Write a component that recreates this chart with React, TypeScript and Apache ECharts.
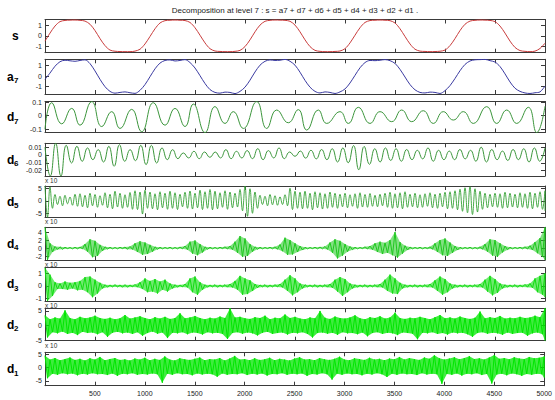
import { useEffect, useRef } from 'react';
import * as echarts from 'echarts';

const X_MAX = 5000;
const X_TICK = 500;
const TITLE = 'Decomposition at level 7 : s = a7 + d7 + d6 + d5 + d4 + d3 + d2 + d1 .';

// signal s, sampled every 50
const sValues = [-0.5,0.26,0.93,1.35,1.46,1.49,1.5,1.47,1.4,1.1,0.5,-0.26,-0.93,-1.35,-1.46,-1.49,-1.5,-1.5,-1.45,-1.27,-0.77,-0.06,0.67,1.22,1.44,1.48,1.5,1.48,1.45,1.27,0.77,0.06,-0.67,-1.22,-1.44,-1.48,-1.5,-1.5,-1.47,-1.38,-1.02,-0.38,0.38,1.02,1.38,1.47,1.5,1.49,1.47,1.38,1.02,0.38,-0.38,-1.02,-1.38,-1.47,-1.5,-1.5,-1.48,-1.44,-1.22,-0.67,0.06,0.77,1.27,1.45,1.48,1.5,1.48,1.44,1.22,0.67,-0.06,-0.77,-1.27,-1.45,-1.48,-1.5,-1.49,-1.46,-1.35,-0.93,-0.26,0.5,1.1,1.4,1.47,1.5,1.49,1.46,1.35,0.93,0.26,-0.5,-1.1,-1.4,-1.47,-1.5,-1.45,-1.2,-0.7];
// approximation a7, sampled every 50
const a7Values = [-0.3,0.3,0.95,1.38,1.52,1.47,1.42,1.5,1.56,1.2,0.5,-0.3,-1.0,-1.45,-1.62,-1.55,-1.5,-1.58,-1.64,-1.35,-0.8,-0.05,0.7,1.25,1.5,1.55,1.45,1.5,1.58,1.3,0.78,0.05,-0.7,-1.28,-1.55,-1.62,-1.52,-1.55,-1.66,-1.45,-1.05,-0.38,0.4,1.05,1.42,1.55,1.5,1.52,1.6,1.42,1.05,0.38,-0.4,-1.05,-1.45,-1.6,-1.5,-1.55,-1.65,-1.5,-1.22,-0.65,0.08,0.8,1.3,1.5,1.48,1.52,1.58,1.48,1.22,0.65,-0.08,-0.8,-1.3,-1.55,-1.6,-1.52,-1.55,-1.65,-1.38,-0.9,-0.22,0.52,1.12,1.45,1.56,1.58,1.6,1.48,1.35,0.92,0.22,-0.55,-1.15,-1.45,-1.6,-1.65,-1.58,-1.5,-0.95];
// detail d7: [sample, value] at extrema
const d7Points = [[0,-0.1],[67,0.096],[167,-0.06],[267,0.054],[350,-0.07],[467,0.104],[567,-0.08],[667,0.03],[750,-0.094],[867,0.047],[967,-0.118],[1083,0.096],[1200,-0.07],[1300,0.054],[1400,-0.08],[1483,0.086],[1600,-0.124],[1700,0.067],[1800,-0.057],[1883,0.03],[1983,-0.094],[2117,0.104],[2217,-0.094],[2317,0.042],[2433,-0.052],[2533,0.045],[2617,-0.106],[2733,0.042],[2817,-0.057],[2950,0.03],[3033,-0.057],[3133,0.062],[3250,-0.057],[3350,0.03],[3467,-0.044],[3567,0.042],[3667,-0.044],[3783,0.037],[3883,-0.057],[3983,0.03],[4083,-0.032],[4183,0.03],[4283,-0.057],[4417,0.067],[4517,-0.057],[4617,0.042],[4717,-0.057],[4833,0.062],[4917,-0.124],[5000,0.07]];
// detail d6 extrema, evenly spaced
const d6Values = [0.01,-0.027,0.015,-0.027,0.0124,-0.0103,0.0111,-0.0081,0.009,-0.006,0.0068,-0.009,0.0111,-0.0145,0.0132,-0.0081,0.0068,-0.0073,0.0124,-0.0124,0.0124,-0.0103,0.009,-0.006,0.0068,-0.0047,0.0026,-0.0038,0.0047,-0.0047,0.0038,-0.003,0.0038,-0.0038,0.0068,-0.0047,0.0047,-0.0038,0.0056,-0.0047,0.0081,-0.006,0.0056,-0.0038,0.009,-0.0047,0.0038,-0.0017,0.005,-0.004,0.006,-0.005,0.007,-0.006,0.008,-0.009,0.009,-0.01,0.012,-0.019,0.011,-0.012,0.008,-0.009,0.009,-0.007,0.008,-0.008,0.007,-0.006,0.006,-0.005,0.009,-0.008,0.006,-0.006,0.005,-0.006,0.007,-0.005,0.006,-0.008,0.01,-0.009,0.007,-0.006,0.005,-0.007,0.007,-0.006,0.008,-0.009,0.009,-0.008,0.009];
// detail d5 (x 10^-3): upper and lower swings
const d5Hi = [5.9,5.5,2.5,1.8,2.2,1.5,2.6,2.8,2.2,3.0,2.5,2.0,3.2,2.6,3.8,3.0,2.4,3.3,4.0,3.5,4.2,3.5,2.8,3.6,3.0,3.8,3.2,2.6,3.4,3.9,3.0,4.2,3.6,4.5,3.8,3.2,4.0,3.5,3.0,4.5,5.9,4.8,3.5,2.2,1.8,2.5,2.0,1.6,2.4,5.0,3.8,3.4,3.8,3.0,3.6,3.2,2.8,3.5,3.0,2.6,3.0,2.4,2.8,3.2,2.5,2.9,2.2,2.6,3.0,3.4,2.8,3.2,3.6,2.6,3.0,2.4,2.8,3.2,2.6,3.0,3.4,3.6,4.0,4.6,5.2,5.6,4.8,3.8,3.0,2.6,3.0,2.8,3.4,3.0,2.6,3.2,2.8,3.4,3.0,3.6,4.0];
const d5Lo = [-6.6,-3,-1.5,-2,-1.2,-1.8,-2.2,-2.4,-2.8,-2.0,-2.6,-1.8,-2.8,-3.2,-2.5,-3.0,-2.6,-3.4,-3.5,-5.3,-3.0,-3.2,-3.6,-2.8,-3.4,-3.0,-3.5,-2.4,-3.0,-3.3,-2.8,-3.5,-3.0,-3.6,-3.2,-2.6,-3.4,-2.8,-2.5,-4.0,-6.2,-5.0,-3.0,-1.5,-2.0,-1.6,-1.8,-1.5,-2.0,-3.5,-3.0,-3.2,-3.0,-3.6,-2.8,-3.3,-3.0,-2.6,-3.0,-2.4,-2.8,-2.2,-3.0,-2.5,-2.6,-2.2,-2.4,-2.0,-2.6,-3.0,-2.8,-3.2,-2.6,-2.4,-2.8,-2.6,-2.2,-2.8,-3.0,-2.4,-3.2,-3.0,-3.6,-4.2,-4.8,-5.5,-4.5,-3.4,-2.8,-2.4,-2.6,-3.0,-2.8,-2.5,-2.8,-2.6,-3.0,-3.2,-2.6,-3.4,-4.0];
// detail d4
const d4Hi = [5.2,1.2,0.4,0.3,0.2,0.15,0.2,0.25,1.0,2.2,1.8,0.8,0.3,0.2,0.15,0.2,0.25,0.4,1.2,1.7,1.4,0.8,0.3,0.2,0.15,0.2,0.15,0.25,0.5,1.6,1.9,1.0,0.3,0.2,0.15,0.2,0.3,0.5,1.6,3.0,2.4,1.0,0.3,0.2,0.15,0.2,0.3,0.9,2.6,2.0,1.2,0.5,0.2,0.15,0.2,0.25,0.4,1.4,2.2,1.8,1.0,0.4,0.2,0.15,0.3,0.5,1.2,1.6,1.3,2.0,4.0,1.5,0.6,0.25,0.15,0.2,0.15,0.3,1.2,2.0,2.4,1.4,0.5,0.2,0.15,0.2,0.15,0.3,1.0,2.2,2.0,1.2,0.5,0.2,0.15,0.2,0.3,0.6,1.5,2.5,5.2];
const d4Lo = [-3,-1.0,-0.35,-0.3,-0.15,-0.2,-0.2,-0.2,-0.9,-2.3,-2.0,-0.7,-0.25,-0.2,-0.2,-0.15,-0.3,-0.35,-1.0,-1.7,-1.5,-0.9,-0.3,-0.2,-0.15,-0.2,-0.2,-0.2,-0.4,-1.4,-1.8,-1.1,-0.3,-0.2,-0.2,-0.15,-0.25,-0.4,-1.2,-2.2,-2.0,-0.9,-0.3,-0.2,-0.15,-0.2,-0.3,-0.8,-1.7,-1.6,-1.0,-0.5,-0.2,-0.15,-0.2,-0.2,-0.35,-1.2,-2.6,-1.9,-0.9,-0.4,-0.2,-0.15,-0.25,-0.4,-1.0,-1.5,-1.2,-1.8,-2.4,-1.4,-0.5,-0.2,-0.15,-0.2,-0.15,-0.3,-1.0,-1.8,-2.0,-1.2,-0.5,-0.2,-0.15,-0.2,-0.2,-0.3,-0.9,-1.9,-2.2,-1.1,-0.4,-0.2,-0.15,-0.2,-0.25,-0.5,-1.3,-2.2,-3.0];
// detail d3
const d3Hi = [1.45,0.9,0.3,0.2,0.35,0.25,0.3,0.4,0.7,0.75,0.5,0.25,0.1,0.08,0.1,0.08,0.1,0.08,0.12,0.3,0.6,0.4,0.55,0.35,0.5,0.2,0.1,0.08,0.15,0.6,0.75,0.3,0.1,0.08,0.1,0.08,0.1,0.15,0.4,0.8,0.6,0.45,0.15,0.08,0.1,0.08,0.1,0.15,0.5,0.85,0.6,0.2,0.1,0.08,0.1,0.08,0.1,0.15,0.5,0.7,0.55,0.2,0.1,0.08,0.1,0.08,0.1,0.15,0.5,0.9,0.6,0.25,0.1,0.08,0.1,0.08,0.1,0.15,0.45,0.75,0.55,0.2,0.1,0.08,0.1,0.08,0.1,0.15,0.5,0.8,0.55,0.2,0.1,0.08,0.1,0.08,0.12,0.2,0.6,0.8,1.0];
const d3Lo = [-1.2,-0.8,-0.25,-0.25,-0.3,-0.2,-0.35,-0.3,-0.5,-0.9,-0.6,-0.2,-0.1,-0.08,-0.08,-0.1,-0.1,-0.08,-0.1,-0.25,-0.5,-0.45,-0.6,-0.3,-0.45,-0.2,-0.1,-0.08,-0.12,-0.5,-0.7,-0.3,-0.1,-0.08,-0.1,-0.08,-0.1,-0.12,-0.3,-0.7,-0.65,-0.4,-0.15,-0.08,-0.1,-0.08,-0.08,-0.12,-0.4,-0.75,-0.5,-0.2,-0.08,-0.08,-0.1,-0.08,-0.1,-0.15,-0.45,-0.8,-0.5,-0.2,-0.1,-0.08,-0.1,-0.08,-0.1,-0.12,-0.4,-0.6,-0.65,-0.2,-0.1,-0.08,-0.1,-0.08,-0.1,-0.12,-0.4,-0.7,-0.5,-0.2,-0.1,-0.08,-0.1,-0.08,-0.1,-0.12,-0.45,-0.75,-0.55,-0.2,-0.1,-0.08,-0.1,-0.08,-0.1,-0.15,-0.5,-0.7,-0.9];
// detail d2
const d2Hi = [3.5,2.2,2.8,2.4,5.2,2.6,2.2,3.0,2.5,2.8,3.4,2.6,2.3,2.7,2.2,2.5,3.6,2.4,2.8,3.2,2.6,2.2,2.9,2.4,3.0,2.3,2.6,4.2,2.5,2.8,3.3,2.6,2.2,2.7,2.4,3.1,2.6,5.9,2.8,3.0,2.5,2.3,2.9,2.6,3.4,2.2,2.7,2.5,3.8,2.6,3.0,2.4,2.2,2.8,2.5,5.0,2.7,2.3,3.1,2.6,2.4,2.8,3.5,2.5,2.2,2.9,2.6,3.2,2.4,2.8,4.4,2.6,2.3,2.7,2.5,3.0,2.6,2.2,2.9,3.6,2.5,2.8,2.4,3.1,2.6,2.3,2.7,4.8,2.5,2.9,2.6,3.3,2.4,2.7,2.5,3.0,2.6,2.8,3.4,2.9,5.9];
const d2Lo = [-4.0,-2.2,-2.6,-2.0,-2.8,-2.4,-3.2,-2.1,-2.5,-2.3,-2.9,-2.2,-3.8,-2.4,-2.1,-2.6,-2.3,-2.8,-2.2,-3.4,-2.5,-2.0,-2.7,-2.3,-4.2,-2.4,-2.6,-2.2,-2.9,-2.3,-2.5,-3.0,-2.2,-2.6,-2.4,-2.8,-4.5,-2.5,-2.2,-2.7,-2.3,-2.6,-3.3,-2.4,-2.1,-2.8,-2.5,-2.3,-3.0,-2.4,-2.6,-2.2,-2.8,-4.0,-2.5,-2.3,-2.7,-2.4,-3.1,-2.2,-2.6,-2.5,-2.9,-2.3,-3.6,-2.5,-2.2,-2.8,-2.4,-2.6,-3.2,-2.3,-2.5,-2.7,-4.6,-2.4,-2.6,-2.2,-2.8,-2.5,-3.0,-2.3,-2.6,-2.4,-2.9,-3.8,-2.5,-2.2,-2.7,-2.4,-2.6,-3.1,-2.3,-2.8,-2.5,-2.4,-3.4,-2.6,-2.3,-2.9,-5.1];
// detail d1
const d1Hi = [4.5,3.0,3.6,2.8,3.2,3.8,2.9,3.3,2.7,3.5,3.0,4.0,2.8,3.2,3.6,2.9,3.1,2.7,3.4,3.0,3.7,2.8,3.3,2.9,4.2,3.0,2.7,3.5,3.1,2.9,3.3,3.8,2.8,3.2,3.0,3.6,2.7,3.4,4.4,3.0,3.2,2.8,3.5,2.9,3.1,3.7,2.8,3.3,3.0,2.7,3.4,3.9,3.0,3.2,2.8,3.6,3.1,2.9,3.3,4.1,3.0,2.8,3.5,3.2,2.9,3.7,3.0,3.3,2.8,3.4,3.1,4.0,3.0,3.6,3.2,2.9,3.8,3.3,4.6,3.5,3.0,3.4,3.9,3.1,3.6,4.3,3.2,3.5,3.0,3.8,4.7,3.3,3.6,3.1,3.9,3.4,3.2,4.0,3.5,3.7,4.2];
const d1Lo = [-4.0,-2.3,-2.7,-2.1,-2.5,-2.2,-2.9,-2.3,-2.6,-2.1,-2.5,-2.4,-2.8,-2.2,-3.1,-2.3,-2.5,-2.1,-2.7,-2.4,-2.6,-2.2,-2.5,-5.7,-2.3,-2.7,-2.1,-2.5,-2.4,-2.9,-2.2,-2.6,-2.3,-2.5,-3.4,-2.2,-2.7,-2.4,-2.5,-2.1,-2.8,-2.3,-2.6,-2.2,-3.0,-2.4,-2.5,-2.1,-2.7,-2.3,-2.5,-2.2,-3.1,-2.4,-2.6,-2.1,-2.5,-4.5,-2.3,-2.7,-2.2,-2.5,-2.4,-2.9,-2.3,-2.6,-2.1,-2.5,-3.5,-2.3,-2.7,-2.2,-2.5,-2.4,-2.8,-2.1,-2.6,-2.3,-2.5,-6.1,-2.4,-2.7,-2.2,-3.0,-2.3,-2.5,-2.1,-2.8,-2.4,-6.0,-2.6,-2.3,-2.9,-2.2,-2.5,-3.1,-2.4,-2.7,-2.3,-2.5,-3.8];

// tick labels
const xTickLabels = [500,1000,1500,2000,2500,3000,3500,4000,4500,5000];
const sTicks = [-1,0,1];
const a7Ticks = [-1,0,1];
const d7Ticks = [-0.1,0,0.1];
const d6Ticks = [-0.02,-0.01,0,0.01];
const d5Ticks = [-5,0,5];
const d4Ticks = [-2,0,2,4];
const d3Ticks = [-1,0,1];
const d2Ticks = [-5,0,5];
const d1Ticks = [-5,0,5];

const FONT = '"Liberation Sans", Arial, Helvetica, sans-serif';
const FRAME = '#3a3a3a';

type Panel = {
  main: string; sub: string; top: number; height: number; min: number; max: number;
  ticks: number[]; color: string; kind: 'line' | 'zig' | 'band'; smooth: number;
  exp: boolean; fill?: number;
};

const PANELS: Panel[] = [
  { main: 's', sub: '', top: 19.5, height: 33.2, min: -1.6, max: 1.55, ticks: sTicks, color: '#c83c3c', kind: 'line', smooth: 0.3, exp: false },
  { main: 'a', sub: '7', top: 59.3, height: 34.7, min: -1.7, max: 1.61, ticks: a7Ticks, color: '#3a3aa0', kind: 'line', smooth: 0.3, exp: false },
  { main: 'd', sub: '7', top: 101.5, height: 31, min: -0.124, max: 0.105, ticks: d7Ticks, color: '#3c963c', kind: 'line', smooth: 0.5, exp: false },
  { main: 'd', sub: '6', top: 143.3, height: 32.7, min: -0.027, max: 0.015, ticks: d6Ticks, color: '#3c963c', kind: 'line', smooth: 0.5, exp: false },
  { main: 'd', sub: '5', top: 186, height: 31.3, min: -6.6, max: 5.9, ticks: d5Ticks, color: '#34a034', kind: 'zig', smooth: 0.4, exp: true },
  { main: 'd', sub: '4', top: 227.3, height: 32.7, min: -3, max: 5.2, ticks: d4Ticks, color: '#1ec81e', kind: 'band', smooth: 0, exp: true, fill: 0.55 },
  { main: 'd', sub: '3', top: 267.7, height: 33.3, min: -1.2, max: 1.45, ticks: d3Ticks, color: '#10dc10', kind: 'band', smooth: 0, exp: true, fill: 0.6 },
  { main: 'd', sub: '2', top: 308.3, height: 32.4, min: -5.1, max: 5.9, ticks: d2Ticks, color: '#00e600', kind: 'band', smooth: 0, exp: true, fill: 0.75 },
  { main: 'd', sub: '1', top: 352.3, height: 33.4, min: -6.8, max: 5.75, ticks: d1Ticks, color: '#00e600', kind: 'band', smooth: 0, exp: true, fill: 0.75 },
];

const PANEL_DATA: any[] = [
  { vals: sValues },
  { vals: a7Values },
  { points: d7Points },
  { vals: d6Values },
  { hi: d5Hi, lo: d5Lo },
  { hi: d4Hi, lo: d4Lo },
  { hi: d3Hi, lo: d3Lo },
  { hi: d2Hi, lo: d2Lo },
  { hi: d1Hi, lo: d1Lo },
];

function uniformPoints(vals: number[]) {
  const step = X_MAX / (vals.length - 1);
  return vals.map((v, i) => [i * step, v]);
}

function zigPoints(hi: number[], lo: number[]) {
  const n = Math.min(hi.length, lo.length);
  const step = X_MAX / (n - 1);
  const out: number[][] = [];
  for (let i = 0; i < n; i++) {
    out.push([i * step, hi[i]]);
    out.push([Math.min((i + 0.5) * step, X_MAX), lo[i]]);
  }
  return out;
}

function buildOption() {
  const grid: any[] = [];
  const xAxis: any[] = [];
  const yAxis: any[] = [];
  const series: any[] = [];
  const graphic: any[] = [];
  const last = PANELS.length - 1;

  PANELS.forEach((p, k) => {
    grid.push({ left: 45, width: 500, top: p.top, height: p.height, containLabel: false });
    const axisLine = { show: true, onZero: false, lineStyle: { color: FRAME, width: 1 } };
    ['bottom', 'top'].forEach((pos) => {
      xAxis.push({
        type: 'value', gridIndex: k, position: pos, min: 0, max: X_MAX, interval: X_TICK,
        axisLine,
        axisTick: { show: true, inside: true, length: 4, lineStyle: { color: FRAME } },
        axisLabel: {
          show: pos === 'bottom' && k === last, customValues: xTickLabels,
          formatter: (v: number) => String(v),
          fontSize: 7, fontFamily: FONT, color: '#222', margin: 4,
        },
        splitLine: { show: false },
      });
    });
    ['left', 'right'].forEach((pos) => {
      yAxis.push({
        type: 'value', gridIndex: k, position: pos, min: p.min, max: p.max,
        axisLine,
        axisTick: { show: true, inside: true, length: 4, customValues: p.ticks, lineStyle: { color: FRAME } },
        axisLabel: {
          show: pos === 'left', customValues: p.ticks,
          formatter: (v: number) => String(v),
          fontSize: 7, fontFamily: FONT, color: '#222', margin: 3,
        },
        splitLine: { show: false },
      });
    });

    const d = PANEL_DATA[k];
    const axes = { xAxisIndex: 2 * k, yAxisIndex: 2 * k };
    if (p.kind === 'line') {
      const data = d.points ? d.points : uniformPoints(d.vals);
      series.push({
        type: 'line', ...axes, data, smooth: p.smooth, showSymbol: false, silent: true,
        lineStyle: { color: p.color, width: 1 }, clip: true,
      });
    } else {
      const zz = zigPoints(d.hi, d.lo);
      if (p.kind === 'band') {
        const hi: number[] = d.hi;
        const lo: number[] = d.lo;
        series.push({
          type: 'custom', ...axes, data: [0], silent: true, clip: true,
          renderItem: (_params: any, api: any) => {
            const n = Math.min(hi.length, lo.length);
            const step = X_MAX / (n - 1);
            const pts: number[][] = [];
            for (let i = 0; i < n; i++) pts.push(api.coord([i * step, hi[i]]));
            for (let i = n - 1; i >= 0; i--) pts.push(api.coord([Math.min((i + 0.5) * step, X_MAX), lo[i]]));
            return { type: 'polygon', shape: { points: pts }, style: { fill: p.color, opacity: p.fill } };
          },
        });
      }
      series.push({
        type: 'line', ...axes, data: zz, smooth: p.smooth || false, showSymbol: false, silent: true,
        lineStyle: { color: p.color, width: p.kind === 'zig' ? 0.9 : 1 }, clip: true,
      });
    }

    // row label
    const cy = p.top + p.height / 2;
    graphic.push({
      type: 'text', x: p.sub ? 7 : 12, y: cy,
      style: { text: p.main, fontSize: 12, fontWeight: 'bold', fontFamily: FONT, fill: '#000', align: 'left', verticalAlign: 'middle' },
    });
    if (p.sub) {
      graphic.push({
        type: 'text', x: 14, y: cy + 4,
        style: { text: p.sub, fontSize: 8, fontWeight: 'bold', fontFamily: FONT, fill: '#000', align: 'left', verticalAlign: 'middle' },
      });
    }
    if (p.exp && k > 0) {
      const prev = PANELS[k - 1];
      graphic.push({
        type: 'text', x: 45, y: prev.top + prev.height + 0.8,
        style: { text: 'x 10', fontSize: 6.5, fontFamily: FONT, fill: '#333', align: 'left', verticalAlign: 'top' },
      });
    }
  });

  graphic.push({
    type: 'text', x: 295, y: 10,
    style: { text: TITLE, fontSize: 8, fontFamily: FONT, fill: '#222', align: 'center', verticalAlign: 'middle' },
  });

  return {
    animation: false,
    backgroundColor: '#ffffff',
    textStyle: { fontFamily: FONT },
    grid, xAxis, yAxis, series, graphic,
  };
}

export default function App() {
  const ref = useRef<HTMLDivElement>(null);
  useEffect(() => {
    if (!ref.current) return;
    const chart = echarts.init(ref.current, undefined, { renderer: 'svg' });
    chart.setOption(buildOption() as any);
    return () => chart.dispose();
  }, []);
  return (
    <div
      ref={ref}
      style={{ position: 'fixed', left: 0, top: 0, width: 555, height: 400, background: '#fff' }}
    />
  );
}
